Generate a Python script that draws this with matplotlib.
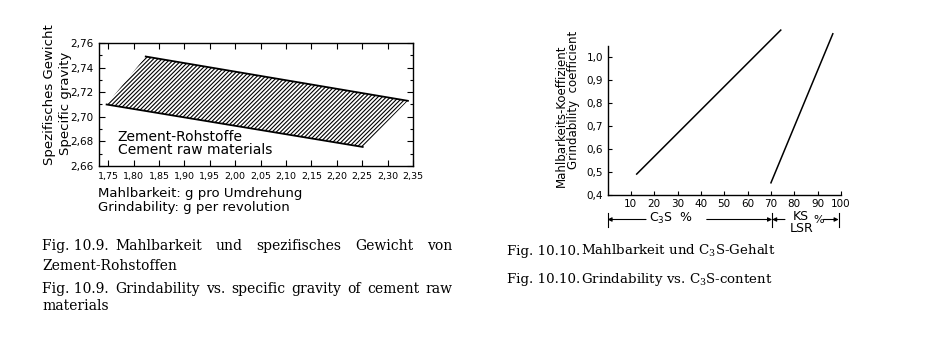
import numpy as np
import matplotlib
matplotlib.use('Agg')
import matplotlib.pyplot as plt
from matplotlib.patches import Polygon
from matplotlib.ticker import MultipleLocator

# Fig. 10.9 - band edges (grindability g/rev vs specific gravity)
upper_x = [1.824, 2.340]
upper_y = [2.749, 2.713]
lower_x = [1.747, 2.251]
lower_y = [2.710, 2.6755]

# Fig. 10.10 - grindability coefficient vs C3S and LSR
c3s_x = [12.5, 74.2]
c3s_y = [0.491, 1.117]
lsr_x = [70.0, 96.5]
lsr_y = [0.453, 1.101]

x1_ticks = np.arange(1.75, 2.351, 0.05)
y1_ticks = np.arange(2.66, 2.761, 0.02)
x2_ticks = np.arange(10, 101, 10)
y2_ticks = np.arange(0.4, 1.01, 0.1)


def comma(v, nd):
    return f'{v:.{nd}f}'.replace('.', ',')


plt.rcParams['font.family'] = 'DejaVu Sans'
plt.rcParams['hatch.linewidth'] = 0.8

W, H = 941, 337
fig = plt.figure(figsize=(W / 100, H / 100), dpi=100)


def fx(x):
    return x / W


def fy(y):
    return 1 - y / H


# ---------------- Fig. 10.9 ----------------
ax1 = fig.add_axes([fx(99), fy(166), 314 / W, 123 / H])
pts = [(lower_x[0], lower_y[0]), (upper_x[0], upper_y[0]),
       (upper_x[1], upper_y[1]), (lower_x[1], lower_y[1])]
ax1.add_patch(Polygon(pts, closed=True, facecolor='none', edgecolor='k',
                      linewidth=0, hatch='////////'))
ax1.plot(upper_x, upper_y, color='k', lw=1.3)
ax1.plot(lower_x, lower_y, color='k', lw=1.3)
ax1.set_xlim(1.732, 2.35)
ax1.set_ylim(2.66, 2.76)
ax1.set_xticks(x1_ticks)
ax1.set_xticklabels([comma(v, 2) for v in x1_ticks], fontsize=6.8)
ax1.set_yticks(y1_ticks)
ax1.set_yticklabels([comma(v, 2) for v in y1_ticks], fontsize=7.5)
ax1.yaxis.set_minor_locator(MultipleLocator(0.01))
ax1.tick_params(direction='in', top=True, right=True, length=4, width=0.8, pad=4)
ax1.tick_params(which='minor', direction='in', right=True, length=2.5, width=0.8)
for s in ax1.spines.values():
    s.set_linewidth(1.0)
ax1.text(0.06, 0.236, 'Zement-Rohstoffe', transform=ax1.transAxes,
         fontsize=10, va='center', ha='left')
ax1.text(0.06, 0.13, 'Cement raw materials', transform=ax1.transAxes,
         fontsize=10, va='center', ha='left')
fig.text(fx(50), fy(95), 'Spezifisches Gewicht', rotation=90, fontsize=9.5,
         ha='center', va='center')
fig.text(fx(65), fy(103), 'Specific gravity', rotation=90, fontsize=9.5,
         ha='center', va='center')
fig.text(fx(98), fy(193), 'Mahlbarkeit: g pro Umdrehung', fontsize=9.5,
         ha='left', va='center')
fig.text(fx(98), fy(207), 'Grindability: g per revolution', fontsize=9.5,
         ha='left', va='center')

# ---------------- Fig. 10.10 ----------------
ax2 = fig.add_axes([fx(607.5), fy(195), 233.5 / W, (195 - 29.4) / H])
ax2.plot(c3s_x, c3s_y, color='k', lw=1.1, clip_on=False)
ax2.plot(lsr_x, lsr_y, color='k', lw=1.1, clip_on=False)
ax2.set_xlim(0, 100)
ax2.set_ylim(0.4, 1.12)
ax2.spines['top'].set_visible(False)
ax2.spines['right'].set_visible(False)
ax2.spines['left'].set_bounds(0.4, 1.05)
ax2.spines['left'].set_linewidth(1.0)
ax2.spines['bottom'].set_linewidth(1.0)
ax2.set_xticks(x2_ticks)
ax2.set_xticklabels([str(v) for v in x2_ticks], fontsize=7.5)
ax2.set_yticks(y2_ticks)
ax2.set_yticklabels([comma(v, 1) for v in y2_ticks], fontsize=7.5)
ax2.tick_params(direction='in', length=3, width=0.8, pad=3)
fig.text(fx(561), fy(116), 'Mahlbarkeits-Koeffizient', rotation=90,
         fontsize=8.5, ha='center', va='center')
fig.text(fx(574), fy(100), 'Grindability  coefficient', rotation=90,
         fontsize=8.5, ha='center', va='center')

# dimension lines under the x axis
ya = 0.4 - 24.5 / 230
yb0, yb1 = 0.4 - 31.5 / 230, 0.4 - 17.5 / 230
for xb in [0, 70.5, 99.0]:
    ax2.plot([xb, xb], [yb0, yb1], color='k', lw=0.8, clip_on=False)
akw = dict(arrowstyle='-|>', mutation_scale=6, lw=0.8, color='k',
           shrinkA=0, shrinkB=0)
for xs, xe in [(16.5, 0), (42.5, 70.5), (76, 70.5), (92.5, 99.0)]:
    ax2.annotate('', xy=(xe, ya), xytext=(xs, ya), arrowprops=akw,
                 annotation_clip=False)
fig.text(fx(671), fy(218), r'C$_\mathregular{3}$S  %', fontsize=9,
         ha='center', va='center')
fig.text(fx(801), fy(216), 'KS', fontsize=9, ha='center', va='center')
fig.text(fx(802), fy(228), 'LSR', fontsize=9, ha='center', va='center')
fig.text(fx(819), fy(220), '%', fontsize=8, ha='center', va='center')

# ---------------- captions ----------------
cap_kw = dict(fontsize=10, family='DejaVu Serif', va='center')
cap2_kw = dict(cap_kw, fontsize=9.6)
renderer = fig.canvas.get_renderer()


def justify(words, x0, x1, y):
    texts = [fig.text(0, fy(y), w, **cap_kw) for w in words]
    widths = [t.get_window_extent(renderer).width for t in texts]
    gap = (x1 - x0 - sum(widths)) / (len(words) - 1)
    x = x0
    for t, w in zip(texts, widths):
        t.set_x(fx(x))
        x += w + gap


fig.text(fx(42), fy(246), 'Fig. 10.9.', **cap_kw)
justify('Mahlbarkeit und spezifisches Gewicht von'.split(), 115, 452, 246)
fig.text(fx(42), fy(266), 'Zement-Rohstoffen', **cap_kw)
fig.text(fx(42), fy(289), 'Fig. 10.9.', **cap_kw)
justify('Grindability vs. specific gravity of cement raw'.split(), 115, 452, 289)
fig.text(fx(42), fy(306), 'materials', **cap_kw)

fig.text(fx(507), fy(251), 'Fig. 10.10.', **cap2_kw)
fig.text(fx(581), fy(251), r'Mahlbarkeit und C$_\mathregular{3}$S-Gehalt', **cap2_kw)
fig.text(fx(507), fy(279), 'Fig. 10.10.', **cap2_kw)
fig.text(fx(581), fy(279), r'Grindability vs. C$_\mathregular{3}$S-content', **cap2_kw)

fig.savefig('out.png', dpi=100)
